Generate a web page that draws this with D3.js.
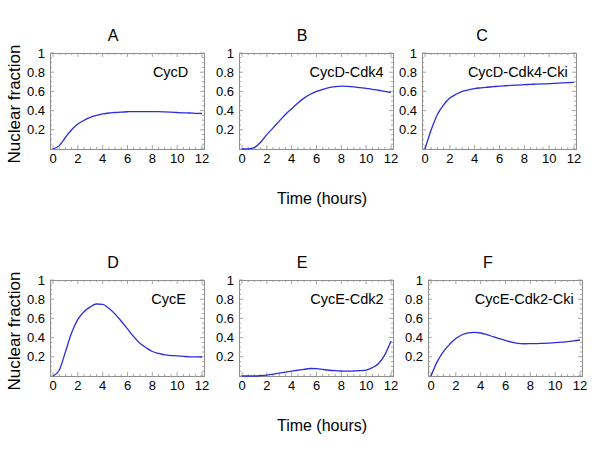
<!DOCTYPE html>
<html lang="en">
<head>
  <meta charset="UTF-8">
  <title>Nuclear fraction over time</title>
  <style>
    body { margin: 0; background: #fff; }
    text { font-family: Arial, "Liberation Sans", sans-serif; fill: #000; }
  </style>
</head>
<body>
  <div id="svg"></div>
  <script src="https://d3js.org/d3.v7.min.js"></script>
  <script>
    // sample times (hours) shared by every panel
    const hours = [0, 0.5, 1, 1.5, 2, 2.5, 3, 3.5, 4, 4.5, 5, 5.5, 6, 6.5, 7, 7.5, 8, 8.5, 9, 9.5, 10, 10.5, 11, 11.5, 12]

    const cycD = [0, 0.035, 0.12, 0.2, 0.26, 0.3, 0.33, 0.35, 0.365, 0.375, 0.38, 0.385, 0.388, 0.39, 0.39, 0.39, 0.39, 0.389, 0.387, 0.384, 0.38, 0.377, 0.375, 0.372, 0.37]
    const cycDCdk4 = [0, 0.002, 0.015, 0.07, 0.15, 0.22, 0.29, 0.36, 0.42, 0.48, 0.53, 0.57, 0.6, 0.622, 0.64, 0.65, 0.655, 0.653, 0.648, 0.64, 0.632, 0.622, 0.612, 0.6, 0.59]
    const cycDCdk4Cki = [0, 0.2, 0.36, 0.46, 0.53, 0.57, 0.6, 0.615, 0.63, 0.637, 0.643, 0.649, 0.655, 0.659, 0.663, 0.666, 0.67, 0.673, 0.676, 0.678, 0.68, 0.684, 0.688, 0.692, 0.695]
    const cycE = [0, 0.06, 0.25, 0.45, 0.59, 0.67, 0.72, 0.75, 0.745, 0.705, 0.645, 0.57, 0.49, 0.41, 0.34, 0.295, 0.255, 0.235, 0.22, 0.213, 0.21, 0.205, 0.2, 0.2, 0.198]
    const cycECdk2 = [0, 0, 0, 0.004, 0.01, 0.02, 0.03, 0.04, 0.05, 0.06, 0.07, 0.078, 0.076, 0.068, 0.06, 0.055, 0.052, 0.05, 0.052, 0.055, 0.062, 0.087, 0.13, 0.22, 0.365]
    const cycECdk2Cki = [0, 0.15, 0.255, 0.33, 0.39, 0.43, 0.45, 0.455, 0.448, 0.43, 0.41, 0.39, 0.37, 0.352, 0.34, 0.336, 0.337, 0.338, 0.34, 0.343, 0.347, 0.352, 0.357, 0.365, 0.375]

    const panelLetters = ['A', 'B', 'C', 'D', 'E', 'F']
    const speciesNames = ['CycD', 'CycD-Cdk4', 'CycD-Cdk4-Cki', 'CycE', 'CycE-Cdk2', 'CycE-Cdk2-Cki']
    const seriesList = [cycD, cycDCdk4, cycDCdk4Cki, cycE, cycECdk2, cycECdk2Cki]
    const xTickValues = [0, 2, 4, 6, 8, 10, 12]
    const yTickValues = [0.2, 0.4, 0.6, 0.8, 1]

    // frame position for each panel (layout only)
    const layout = [
      {left: 50, top: 53, titleX: 113, nameX: 10.9},
      {left: 239, top: 53, titleX: 302, nameX: 11.4},
      {left: 422, top: 53, titleX: 482, nameX: 11.5},
      {left: 50, top: 280, titleX: 113, nameX: 10.7},
      {left: 239, top: 280, titleX: 302, nameX: 11.4},
      {left: 428, top: 280, titleX: 488, nameX: 11.5}
    ]
    const frameW = 154
    const frameH = 96
    const frameColor = '#8f8f8f'
    const lineColor = '#2b2be0'

    const svg = d3.select('#svg')
      .append('svg')
        .attr('width', 600)
        .attr('height', 450)

    svg.append('rect')
      .attr('width', 600).attr('height', 450)
      .attr('fill', '#fff')

    panelLetters.forEach((letter, i) => {
      const pos = layout[i]
      const x = d3.scaleLinear().domain([0, 12]).range([pos.left + 3, pos.left + frameW - 2])
      const y = d3.scaleLinear().domain([0, 1]).range([pos.top + frameH, pos.top])
      const g = svg.append('g')

      // small frame ticks, inward on all four sides
      const minorX = d3.range(0, 12.01, 0.5)
      const minorY = d3.range(0, 1.001, 0.05)
      const isMajorX = v => Math.abs(v / 2 - Math.round(v / 2)) < 1e-6
      const isMajorY = v => Math.abs(v / 0.2 - Math.round(v / 0.2)) < 1e-6

      minorX.forEach(v => {
        const len = isMajorX(v) ? 4 : 2
        g.append('line')
          .attr('x1', x(v)).attr('x2', x(v))
          .attr('y1', pos.top + frameH).attr('y2', pos.top + frameH - len)
          .attr('stroke', frameColor).attr('stroke-width', 0.8)
        g.append('line')
          .attr('x1', x(v)).attr('x2', x(v))
          .attr('y1', pos.top).attr('y2', pos.top + len)
          .attr('stroke', frameColor).attr('stroke-width', 0.8)
      })
      minorY.forEach(v => {
        const len = isMajorY(v) ? 4 : 2
        g.append('line')
          .attr('x1', pos.left).attr('x2', pos.left + len)
          .attr('y1', y(v)).attr('y2', y(v))
          .attr('stroke', frameColor).attr('stroke-width', 0.8)
        g.append('line')
          .attr('x1', pos.left + frameW).attr('x2', pos.left + frameW - len)
          .attr('y1', y(v)).attr('y2', y(v))
          .attr('stroke', frameColor).attr('stroke-width', 0.8)
      })

      g.append('rect')
        .attr('x', pos.left + 0.5).attr('y', pos.top + 0.5)
        .attr('width', frameW).attr('height', frameH)
        .attr('fill', 'none')
        .attr('stroke', frameColor)
        .attr('stroke-width', 1)

      // tick labels
      g.selectAll('.xt')
        .data(xTickValues)
        .enter()
        .append('text')
          .attr('x', d => x(d))
          .attr('y', pos.top + frameH + 14)
          .attr('text-anchor', 'middle')
          .style('font-size', '13px')
          .text(d => d)

      g.selectAll('.yt')
        .data(yTickValues)
        .enter()
        .append('text')
          .attr('x', pos.left - 5)
          .attr('y', d => y(d) + 4.5)
          .attr('text-anchor', 'end')
          .style('font-size', '13px')
          .text(d => d)

      // curve
      const line = d3.line()
        .x((d, k) => x(hours[k]))
        .y(d => y(d))
        .curve(d3.curveMonotoneX)

      g.append('path')
        .datum(seriesList[i])
        .attr('d', line)
        .attr('fill', 'none')
        .attr('stroke', lineColor)
        .attr('stroke-width', 1.3)

      // species name inside the frame
      g.append('text')
        .attr('x', x(pos.nameX))
        .attr('y', y(0.75))
        .attr('text-anchor', 'end')
        .style('font-size', '14.5px')
        .text(speciesNames[i])

      // panel letter
      svg.append('text')
        .attr('x', pos.titleX)
        .attr('y', pos.top - 12)
        .attr('text-anchor', 'middle')
        .style('font-size', '16px')
        .text(letter)
    })

    // shared axis labels
    const rowTops = [53, 280]
    rowTops.forEach(top => {
      svg.append('text')
        .attr('transform', `translate(20, ${top + 51}) rotate(-90)`)
        .attr('text-anchor', 'middle')
        .style('font-size', '17px')
        .text('Nuclear fraction')

      svg.append('text')
        .attr('x', 322)
        .attr('y', top + 151)
        .attr('text-anchor', 'middle')
        .style('font-size', '16px')
        .text('Time (hours)')
    })
  </script>
</body>
</html>
